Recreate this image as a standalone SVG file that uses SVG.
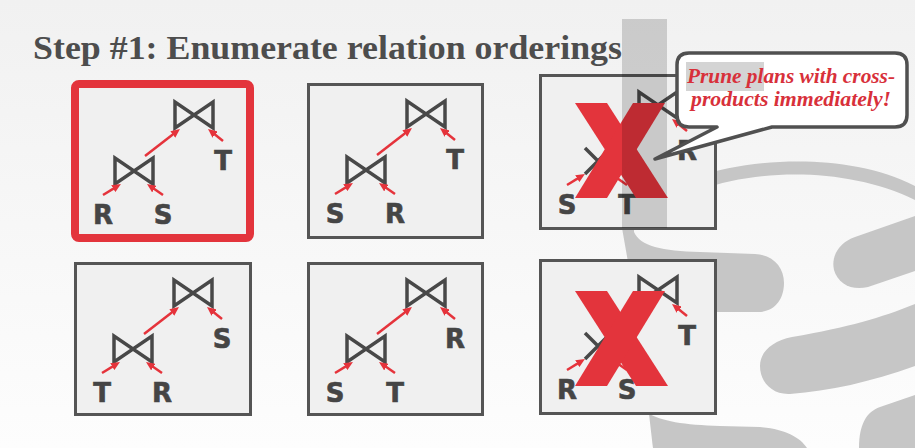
<svg xmlns="http://www.w3.org/2000/svg" xmlns:xlink="http://www.w3.org/1999/xlink" width="915" height="448" viewBox="0 0 915 448">
<defs>
<linearGradient id="bg" x1="0" y1="0" x2="0" y2="1">
<stop offset="0" stop-color="#f1f1f1"/>
<stop offset="1" stop-color="#fdfdfd"/>
</linearGradient>
<marker id="ah" markerWidth="9" markerHeight="8" refX="4" refY="4" orient="auto" markerUnits="userSpaceOnUse">
<path d="M0,0 L9,4 L0,8 Z" fill="#e5333b"/>
</marker>
<path id="bt" d="M0,0 V26 L38,0 V26 Z"/>
<style>
.box{fill:#f0f0f0;stroke:#555;stroke-width:3}
.sel{fill:#f0f0f0;stroke:#e3343c;stroke-width:8}
.join{fill:none;stroke:#484848;stroke-width:3.5;stroke-linejoin:miter}
.lbl{font-family:"DejaVu Sans",sans-serif;font-weight:bold;font-size:26px;fill:#454545;stroke:#454545;stroke-width:0.6;text-anchor:middle}
.edge{stroke:#e5333b;stroke-width:2.5;fill:none;marker-end:url(#ah)}
.bigx{fill:#e3343c}
.logo{fill:#c6c6c6}
.note{font-family:"Liberation Serif",serif;font-weight:bold;font-style:italic;font-size:22px;fill:#d8303a;text-anchor:middle}
</style>
</defs>
<rect width="915" height="448" fill="url(#bg)"/>
<g id="watermark" class="logo">
<path d="M700,176 C745,160 845,150 915,186 L915,200 C850,168 760,168 700,190 Z"/>
<path d="M622,215 L634,215 L634,232 C640,246 662,251 700,252 L755,254 C773,255 784,267 784,283 C784,300 774,312 758,312 L660,312 L660,400 L648,413 C660,421 685,425 720,426 L760,427 C785,429 800,437 807,448 L653,448 C651,430 645,380 640,330 L622,228 Z"/>
<path d="M915,216 L855,237 C838,243 831,257 834,270 C838,284 852,291 868,287 L915,271 Z"/>
<path d="M915,304 C880,318 850,327 792,337 C772,341 760,352 760,366 C760,382 772,395 790,394 C830,391 870,382 915,366 Z"/>
<path d="M915,395 L880,407 C866,412 859,425 859,448 L915,448 Z"/>
</g>
<text x="33" y="59" font-family="'Liberation Serif',serif" font-weight="bold" font-size="34" fill="#4d4d4d" textLength="589" lengthAdjust="spacingAndGlyphs">Step #1: Enumerate relation orderings</text>

<g id="plan1">
<rect class="sel" x="75" y="84" width="175" height="154" rx="4"/>
<g transform="translate(75,84)">
<use href="#bt" class="join" x="100" y="18"/>
<use href="#bt" class="join" x="40" y="74"/>
<text class="lbl" x="28" y="140">R</text>
<text class="lbl" x="88" y="140">S</text>
<text class="lbl" x="148" y="86">T</text>
<g class="connectors">
<line class="edge" x1="70" y1="72" x2="101" y2="48.1"/>
<line class="edge" x1="148" y1="57" x2="136.9" y2="48.1"/>
<line class="edge" x1="28" y1="111" x2="41.7" y2="102.6"/>
<line class="edge" x1="88" y1="111" x2="76.1" y2="102.8"/>
</g>
</g>
</g>

<g id="plan2">
<rect class="box" x="308.5" y="84.5" width="174" height="153"/>
<g transform="translate(307,83)">
<use href="#bt" class="join" x="100" y="18"/>
<use href="#bt" class="join" x="40" y="74"/>
<text class="lbl" x="28" y="140">S</text>
<text class="lbl" x="88" y="140">R</text>
<text class="lbl" x="148" y="86">T</text>
<g class="connectors">
<line class="edge" x1="70" y1="72" x2="101" y2="48.1"/>
<line class="edge" x1="148" y1="57" x2="136.9" y2="48.1"/>
<line class="edge" x1="28" y1="111" x2="41.7" y2="102.6"/>
<line class="edge" x1="88" y1="111" x2="76.1" y2="102.8"/>
</g>
</g>
</g>

<g id="plan3">
<rect class="box" x="540.5" y="75.5" width="175" height="153"/>
<g transform="translate(539,74)">
<use href="#bt" class="join" x="100" y="18"/>
<path class="join" d="M46,74 L72,100 M72,74 L46,100"/>
<text class="lbl" x="28" y="140">S</text>
<text class="lbl" x="88" y="140">T</text>
<text class="lbl" x="148" y="86">R</text>
<g class="connectors">
<line class="edge" x1="70" y1="72" x2="101" y2="48.1"/>
<line class="edge" x1="148" y1="57" x2="136.9" y2="48.1"/>
<line class="edge" x1="28" y1="111" x2="41.7" y2="102.6"/>
<line class="edge" x1="88" y1="111" x2="76.1" y2="102.8"/>
</g>
</g>
<g class="bigx" transform="translate(575,103)">
<polygon points="0,0 32,0 93,95 61,95"/>
<polygon points="58,0 90,0 32,95 0,95"/>
</g>
</g>

<g id="plan4">
<rect class="box" x="75.5" y="263.5" width="175" height="151"/>
<g transform="translate(74,262)">
<use href="#bt" class="join" x="100" y="18"/>
<use href="#bt" class="join" x="40" y="74"/>
<text class="lbl" x="28" y="140">T</text>
<text class="lbl" x="88" y="140">R</text>
<text class="lbl" x="148" y="86">S</text>
<g class="connectors">
<line class="edge" x1="70" y1="72" x2="101" y2="48.1"/>
<line class="edge" x1="148" y1="57" x2="136.9" y2="48.1"/>
<line class="edge" x1="28" y1="111" x2="41.7" y2="102.6"/>
<line class="edge" x1="88" y1="111" x2="76.1" y2="102.8"/>
</g>
</g>
</g>

<g id="plan5">
<rect class="box" x="308.5" y="263.5" width="174" height="151"/>
<g transform="translate(307,262)">
<use href="#bt" class="join" x="100" y="18"/>
<use href="#bt" class="join" x="40" y="74"/>
<text class="lbl" x="28" y="140">S</text>
<text class="lbl" x="88" y="140">T</text>
<text class="lbl" x="148" y="86">R</text>
<g class="connectors">
<line class="edge" x1="70" y1="72" x2="101" y2="48.1"/>
<line class="edge" x1="148" y1="57" x2="136.9" y2="48.1"/>
<line class="edge" x1="28" y1="111" x2="41.7" y2="102.6"/>
<line class="edge" x1="88" y1="111" x2="76.1" y2="102.8"/>
</g>
</g>
</g>

<g id="plan6">
<rect class="box" x="540.5" y="260.5" width="175" height="153"/>
<g transform="translate(539,259)">
<use href="#bt" class="join" x="100" y="18"/>
<path class="join" d="M46,74 L72,100 M72,74 L46,100"/>
<text class="lbl" x="28" y="140">R</text>
<text class="lbl" x="88" y="140">S</text>
<text class="lbl" x="148" y="86">T</text>
<g class="connectors">
<line class="edge" x1="70" y1="72" x2="101" y2="48.1"/>
<line class="edge" x1="148" y1="57" x2="136.9" y2="48.1"/>
<line class="edge" x1="28" y1="111" x2="41.7" y2="102.6"/>
<line class="edge" x1="88" y1="111" x2="76.1" y2="102.8"/>
</g>
</g>
<g class="bigx" transform="translate(575,291)">
<polygon points="0,0 32,0 93,95 61,95"/>
<polygon points="58,0 90,0 32,95 0,95"/>
</g>
</g>

<rect id="band" x="622" y="19" width="45" height="209" fill="#000" fill-opacity="0.16"/>

<g id="callout">
<path d="M689,53 H895 Q907,53 907,65 V115 Q907,127 895,127 H772 L655,159 L717,127 H689 Q677,127 677,115 V65 Q677,53 689,53 Z" fill="#fff" stroke="#505050" stroke-width="3.5" stroke-linejoin="round"/>
<rect x="686" y="62" width="78" height="29" fill="#d4d4d4"/>
<text class="note" x="791" y="83" textLength="208" lengthAdjust="spacingAndGlyphs">Prune plans with cross-</text>
<text class="note" x="791" y="106" textLength="200" lengthAdjust="spacingAndGlyphs">products immediately!</text>
</g>
</svg>
